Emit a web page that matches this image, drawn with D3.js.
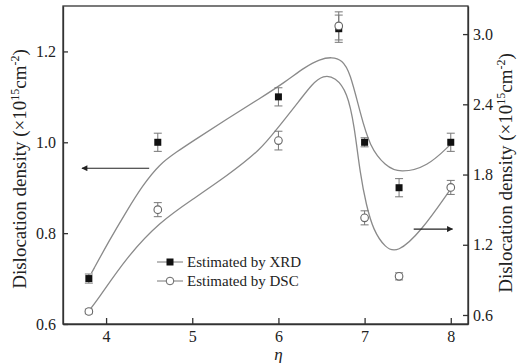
<!DOCTYPE html>
<html>
<head>
<meta charset="utf-8">
<script src="https://cdn.jsdelivr.net/npm/d3@7"></script>
<style>
  body { margin: 0; background: #fff; }
  svg { display: block; font-family: "Liberation Serif", "DejaVu Serif", serif; }
  .axis text { font-size: 16px; fill: #222; font-family: "Liberation Serif", serif; }
  .axis path, .axis line { stroke: #333; stroke-width: 1.3; }
</style>
</head>
<body>
<script>
// Data
var eta = [3.8, 4.6, 6.0, 6.7, 7.0, 7.4, 8.0];
var xrd = [0.70, 1.00, 1.10, 1.25, 1.00, 0.90, 1.00];
var xrdErr = [0.01, 0.02, 0.02, 0.03, 0.01, 0.02, 0.02];
var dsc = [0.63, 1.50, 2.09, 3.07, 1.43, 0.93, 1.69];
var dscErr = [0.02, 0.06, 0.08, 0.12, 0.06, 0.03, 0.06];

// fitted guide curves
var xrdFitEta = [3.83, 4.04, 4.24, 4.42, 4.62, 4.82, 5.01, 5.40, 5.79, 6.08, 6.31, 6.48, 6.62, 6.74, 6.83, 6.95, 7.06, 7.24, 7.41, 7.73, 7.99];
var xrdFitVal = [0.712, 0.785, 0.849, 0.904, 0.952, 0.979, 1.003, 1.051, 1.097, 1.133, 1.166, 1.183, 1.188, 1.181, 1.155, 1.064, 0.990, 0.948, 0.932, 0.946, 0.994];
var dscFitEta = [3.79, 3.90, 4.24, 4.62, 5.01, 5.40, 5.79, 5.99, 6.25, 6.39, 6.52, 6.66, 6.80, 6.88, 6.95, 7.02, 7.10, 7.24, 7.38, 7.65, 7.99];
var dscFitVal = [0.626, 0.728, 1.095, 1.394, 1.591, 1.787, 2.009, 2.197, 2.436, 2.573, 2.650, 2.632, 2.504, 2.222, 1.796, 1.539, 1.326, 1.172, 1.129, 1.309, 1.667];

var xTicks = [4, 5, 6, 7, 8];
var leftTicks = [0.6, 0.8, 1.0, 1.2];
var rightTicks = [0.6, 1.2, 1.8, 2.4, 3.0];

var svgWidth = 520;
var svgHeight = 363;
var margin = { top: 6, right: 52, bottom: 39, left: 63 };
var width = svgWidth - margin.left - margin.right;
var height = svgHeight - margin.top - margin.bottom;

var svg = d3.select("body").append("svg")
  .attr("width", svgWidth)
  .attr("height", svgHeight);

var g = svg.append("g")
  .attr("transform", `translate(${margin.left}, ${margin.top})`);

var x = d3.scaleLinear().domain([3.5, 8.2]).range([0, width]);
var yL = d3.scaleLinear().domain([0.6, 1.3]).range([height, 0]);
var yR = d3.scaleLinear().domain([0.523, 3.24]).range([height, 0]);

// frame
g.append("rect")
  .attr("width", width).attr("height", height)
  .attr("fill", "none").attr("stroke", "#333").attr("stroke-width", 1.3);

g.append("g").attr("class", "axis")
  .attr("transform", `translate(0, ${height})`)
  .call(d3.axisBottom(x).tickValues(xTicks).tickFormat(d3.format("d")).tickSizeInner(-6).tickSizeOuter(0).tickPadding(7));

g.append("g").attr("class", "axis")
  .call(d3.axisLeft(yL).tickValues(leftTicks).tickFormat(d3.format(".1f")).tickSizeInner(-5).tickSizeOuter(0).tickPadding(7));

g.append("g").attr("class", "axis")
  .attr("transform", `translate(${width}, 0)`)
  .call(d3.axisRight(yR).tickValues(rightTicks).tickFormat(d3.format(".1f")).tickSizeInner(-5).tickSizeOuter(0).tickPadding(5));

// guide curves
var lineL = d3.line().x(d => x(d[0])).y(d => yL(d[1])).curve(d3.curveBasis);
var lineR = d3.line().x(d => x(d[0])).y(d => yR(d[1])).curve(d3.curveBasis);

g.append("path")
  .attr("d", lineL(d3.zip(xrdFitEta, xrdFitVal)))
  .attr("fill", "none").attr("stroke", "#8a8a8a").attr("stroke-width", 1.3);
g.append("path")
  .attr("d", lineR(d3.zip(dscFitEta, dscFitVal)))
  .attr("fill", "none").attr("stroke", "#8a8a8a").attr("stroke-width", 1.3);

// error bars
function errorBars(vals, errs, scale) {
  var eb = g.append("g").attr("stroke", "#777").attr("stroke-width", 1);
  eta.forEach(function(e, i) {
    var cx = x(e), top = scale(vals[i] + errs[i]), bot = scale(vals[i] - errs[i]);
    eb.append("line").attr("x1", cx).attr("x2", cx).attr("y1", top).attr("y2", bot);
    eb.append("line").attr("x1", cx - 4).attr("x2", cx + 4).attr("y1", top).attr("y2", top);
    eb.append("line").attr("x1", cx - 4).attr("x2", cx + 4).attr("y1", bot).attr("y2", bot);
  });
}
errorBars(xrd, xrdErr, yL);
errorBars(dsc, dscErr, yR);

// markers
g.selectAll(".sq").data(eta).enter().append("rect")
  .attr("x", (d) => x(d) - 3.5)
  .attr("y", (d, i) => yL(xrd[i]) - 3.5)
  .attr("width", 7).attr("height", 7)
  .attr("fill", "#111");

g.selectAll(".ci").data(eta).enter().append("circle")
  .attr("cx", (d) => x(d))
  .attr("cy", (d, i) => yR(dsc[i]))
  .attr("r", 3.8)
  .attr("fill", "#fff").attr("stroke", "#666").attr("stroke-width", 1.1);

// arrows
var defs = svg.append("defs");
defs.append("marker").attr("id", "ah")
  .attr("viewBox", "0 0 10 10").attr("refX", 9).attr("refY", 5)
  .attr("markerWidth", 9).attr("markerHeight", 6).attr("markerUnits", "userSpaceOnUse")
  .attr("orient", "auto")
  .append("path").attr("d", "M0,0 L10,5 L0,10 Z").attr("fill", "#222");

g.append("line")
  .attr("x1", x(4.5)).attr("x2", x(3.72))
  .attr("y1", yL(0.943)).attr("y2", yL(0.943))
  .attr("stroke", "#222").attr("stroke-width", 1.1).attr("marker-end", "url(#ah)");
g.append("line")
  .attr("x1", x(7.57)).attr("x2", x(8.02))
  .attr("y1", yR(1.334)).attr("y2", yR(1.334))
  .attr("stroke", "#222").attr("stroke-width", 1.1).attr("marker-end", "url(#ah)");

// legend
var legend = g.append("g").attr("transform", `translate(${157 - margin.left}, ${262 - margin.top})`);
legend.append("line").attr("x1", 0).attr("x2", 26).attr("y1", 0).attr("y2", 0).attr("stroke", "#777");
legend.append("rect").attr("x", 9.5).attr("y", -3.5).attr("width", 7).attr("height", 7).attr("fill", "#111");
legend.append("text").attr("x", 30).attr("y", 5).attr("font-size", 15).attr("fill", "#222").text("Estimated by XRD");
legend.append("line").attr("x1", 0).attr("x2", 26).attr("y1", 19).attr("y2", 19).attr("stroke", "#777");
legend.append("circle").attr("cx", 13).attr("cy", 19).attr("r", 3.8).attr("fill", "#fff").attr("stroke", "#666");
legend.append("text").attr("x", 30).attr("y", 24).attr("font-size", 15).attr("fill", "#222").text("Estimated by DSC");

// axis titles
var titleHtml = "Dislocation density (×10<tspan dy='-7' font-size='12'>15</tspan><tspan dy='7'>cm</tspan><tspan dy='-7' font-size='12'>-2</tspan><tspan dy='7'>)</tspan>";
svg.append("text")
  .attr("transform", `translate(26, ${margin.top + height / 2 + 4}) rotate(-90)`)
  .attr("text-anchor", "middle").attr("font-size", 19).attr("fill", "#222")
  .html(titleHtml);

svg.append("text")
  .attr("transform", `translate(${svgWidth - 8}, ${margin.top + height / 2 + 8}) rotate(-90)`)
  .attr("text-anchor", "middle").attr("font-size", 19).attr("fill", "#222")
  .html(titleHtml);

svg.append("text")
  .attr("x", margin.left + x(6)).attr("y", 360)
  .attr("text-anchor", "middle").attr("font-size", 17).attr("font-style", "italic").attr("fill", "#222")
  .text("η");
</script>
</body>
</html>
